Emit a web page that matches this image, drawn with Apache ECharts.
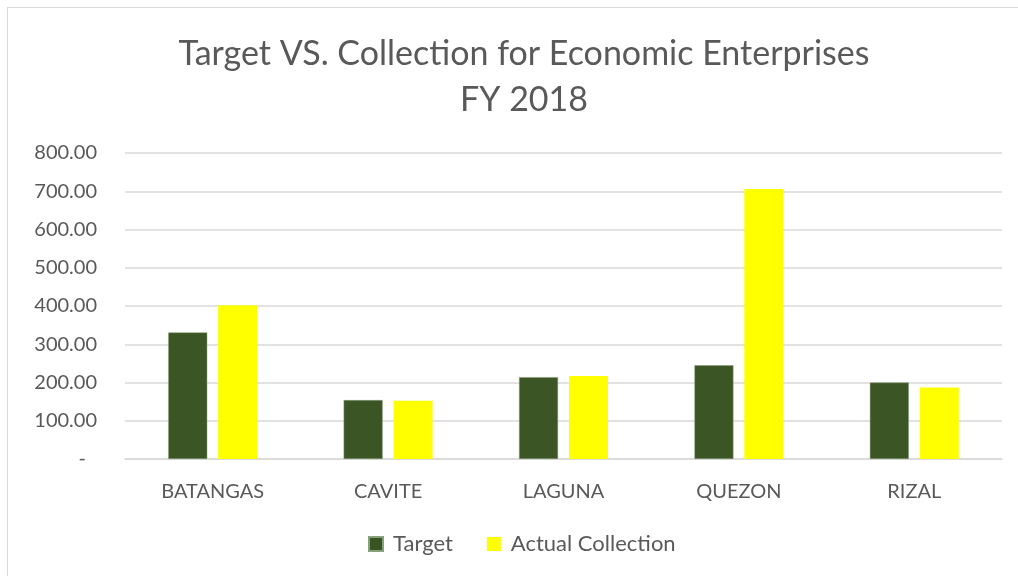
<!DOCTYPE html>
<html><head><meta charset="utf-8">
<script src="https://cdn.jsdelivr.net/npm/echarts@6/dist/echarts.min.js"></script>
<style>
html,body{margin:0;padding:0;background:#fff;}
#frame{position:absolute;left:7px;top:7px;width:1030px;height:600px;border:1px solid #d9d9d9;box-sizing:border-box;}
#c{position:absolute;left:0;top:0;width:1018px;height:576px;}
</style></head>
<body>
<div id="frame"></div>
<div id="c"></div>
<script>
const categories = ['BATANGAS','CAVITE','LAGUNA','QUEZON','RIZAL'];
const targetValues = [331, 154, 214, 245, 200];
const actualValues = [402, 152, 217, 706, 187];
const yTicks = [0,100,200,300,400,500,600,700,800];

const chart = echarts.init(document.getElementById('c'));
const font = 'Lato, "Open Sans", sans-serif';
chart.setOption({
  animation:false,
  title:{
    text:'Target VS. Collection for Economic Enterprises\nFY 2018',
    left: 519, textAlign:'center', top:26,
    textStyle:{fontFamily:font,fontSize:34,fontWeight:'normal',color:'#595959',lineHeight:46}
  },
  legend:{
    bottom:16, left:363, itemWidth:14, itemHeight:14, itemGap:34,
    icon:'rect',
    textStyle:{fontFamily:font,fontSize:22,color:'#595959',padding:[0,0,0,5]},
    data:['Target','Actual Collection']
  },
  grid:{left:125,right:16,top:153,bottom:117},
  xAxis:{
    type:'category', data:categories,
    axisLine:{lineStyle:{color:'#d9d9d9',width:1.5}},
    axisTick:{show:false},
    axisLabel:{fontFamily:font,fontSize:20,color:'#595959',margin:23}
  },
  yAxis:{
    type:'value', min:yTicks[0], max:yTicks[yTicks.length-1], interval:100,
    axisLine:{show:false}, axisTick:{show:false},
    splitLine:{lineStyle:{color:'#d9d9d9',width:1.5}},
    axisLabel:{fontFamily:font,fontSize:20,color:'#595959',margin:28,
      formatter:v=> v===0 ? '{d|-}' : v.toFixed(2),
      rich:{d:{fontFamily:font,fontSize:20,color:'#595959',padding:[0,11,0,0]}}}
  },
  series:[
    {name:'Target',type:'bar',data:targetValues,barWidth:39,barGap:'28%',
     itemStyle:{color:'#3b5524',borderColor:'#8aa07a',borderWidth:0.5}},
    {name:'Actual Collection',type:'bar',data:actualValues,barWidth:39,
     itemStyle:{color:'#ffff00'}}
  ]
});
</script>
</body></html>
